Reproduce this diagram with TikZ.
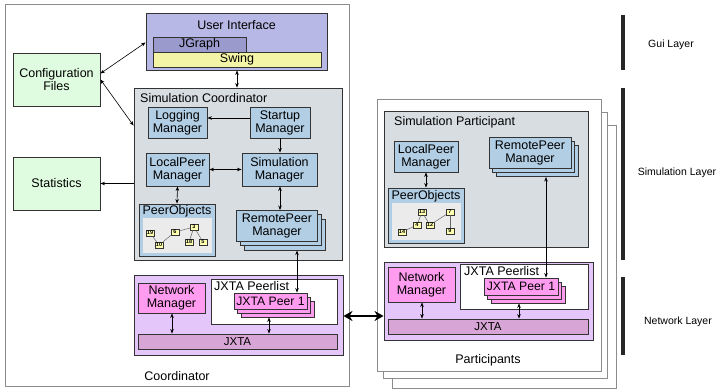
\documentclass[tikz,border=0pt]{standalone}
\usepackage{fontspec}
\setmainfont{Liberation Sans}
\usetikzlibrary{arrows.meta,shadows}
\definecolor{uifill}{HTML}{B8B8E6}
\definecolor{jgfill}{HTML}{9A9ACC}
\definecolor{swfill}{HTML}{F4F4A6}
\definecolor{grfill}{HTML}{E0FCE0}
\definecolor{scfill}{HTML}{D8DDE2}
\definecolor{mgfill}{HTML}{B2CEE4}
\definecolor{pofill}{HTML}{EBEBEB}
\definecolor{nbfill}{HTML}{FFFFB0}
\definecolor{nlfill}{HTML}{E4C6FA}
\definecolor{pkfill}{HTML}{FF9CF0}
\definecolor{jxfill}{HTML}{D8A6D6}
\definecolor{bdr}{HTML}{333333}
\definecolor{outerbdr}{HTML}{8C8C8C}
\tikzset{
  base/.style={draw=bdr, line width=0.9pt, inner sep=0pt, align=center,
    font=\fontsize{12.5}{13}\selectfont},
  outerbox/.style={draw=outerbdr, line width=0.8pt, fill=white, inner sep=0pt},
  uibox/.style={base, fill=uifill},
  greenbox/.style={base, fill=grfill},
  simbox/.style={base, fill=scfill},
  mgr/.style={base, fill=mgfill},
  pobox/.style={draw=none, fill=pofill, inner sep=0pt},
  numbox/.style={draw=bdr, line width=0.5pt, fill=nbfill, inner sep=0pt,
    minimum width=7.5pt, minimum height=6pt, font=\fontsize{5.5}{6}\selectfont\bfseries},
  numline/.style={draw=gray!80!black, line width=0.5pt},
  netbox/.style={base, fill=nlfill},
  pink/.style={base, fill=pkfill},
  jxbar/.style={base, fill=jxfill, font=\fontsize{11.5}{12}\selectfont},
  listbox/.style={base, fill=white},
  title/.style={inner sep=0pt, anchor=west, font=\fontsize{12.5}{13}\selectfont},
  arr/.style={line width=0.6pt, -{Stealth[length=4.5pt,width=3.5pt]}},
  darr/.style={line width=0.6pt, {Stealth[length=4.5pt,width=3.5pt]}-{Stealth[length=4.5pt,width=3.5pt]}},
  bigarr/.style={line width=2.4pt, {Stealth[length=9pt,width=10pt]}-{Stealth[length=9pt,width=10pt]}},
  layerbar/.style={fill=black!85, draw=none, inner sep=0pt, minimum width=4pt},
  layerlabel/.style={inner sep=0pt, font=\fontsize{10.5}{11}\selectfont},
  stack/.style={double copy shadow={shadow xshift=3.8pt, shadow yshift=-4.3pt}},
}
\begin{document}
\begin{tikzpicture}[x=1pt,y=-1pt]
\useasboundingbox (0,0) rectangle (726,390);
% ---------- Coordinator outer box ----------
\node[outerbox, minimum width=344pt, minimum height=382pt] (coord) at (177,195) {};
\node[inner sep=0pt, font=\fontsize{12.5}{13}\selectfont] (coordlbl) at (177,376) {Coordinator};
% ---------- Participants stacked outer boxes ----------
\node[outerbox, minimum width=224pt, minimum height=263pt] (part3) at (504,256.5) {};
\node[outerbox, minimum width=224pt, minimum height=266pt] (part2) at (495,245) {};
\node[outerbox, minimum width=224pt, minimum height=272pt] (part) at (489,235) {};
\node[inner sep=0pt, font=\fontsize{12.5}{13}\selectfont] (partlbl) at (488,360) {Participants};
% ---------- User interface ----------
\node[uibox, minimum width=181pt, minimum height=57pt] (ui) at (236.5,41.5) {};
\node[inner sep=0pt, font=\fontsize{12.5}{13}\selectfont] (uilbl) at (236.5,25.5) {User Interface};
\node[base, fill=jgfill, minimum width=93pt, minimum height=15pt] (jgraph) at (199.5,44.5) {JGraph};
\node[base, fill=swfill, minimum width=168pt, minimum height=15pt] (swing) at (237,59.5) {Swing};
% ---------- Config / Statistics ----------
\node[greenbox, minimum width=87pt, minimum height=53pt] (cfg) at (56.5,79.5) {Configuration\\Files};
\node[greenbox, minimum width=87pt, minimum height=53pt] (stats) at (56.5,183.5) {Statistics};
% ---------- Simulation Coordinator ----------
\node[simbox, minimum width=208pt, minimum height=172pt] (simc) at (238,174) {};
\node[title] (simclbl) at (140,98.5) {Simulation Coordinator};
\node[mgr, minimum width=59pt, minimum height=31pt] (logm) at (177.5,122.5) {Logging\\Manager};
\node[mgr, minimum width=60pt, minimum height=31pt] (startm) at (280,122.5) {Startup\\Manager};
\node[mgr, minimum width=63pt, minimum height=33pt] (localm) at (177.5,169.5) {LocalPeer\\Manager};
\node[mgr, minimum width=75pt, minimum height=33pt] (simm) at (279.5,169.5) {Simulation\\Manager};
\node[mgr, stack, minimum width=81pt, minimum height=31pt] (remm) at (277,226) {RemotePeer\\Manager};
\node[mgr, minimum width=76pt, minimum height=52pt] (pobj) at (177,230) {};
\node[inner sep=0pt, font=\fontsize{12.5}{13}\selectfont] (pobjlbl) at (177,211.5) {PeerObjects};
\node[pobox, minimum width=69pt, minimum height=35pt] (pobjin) at (177.5,235.5) {};
\node[numbox] (n19) at (150,233) {19};
\node[numbox] (n10) at (159,245) {10};
\node[numbox] (n6) at (175,232) {6};
\node[numbox] (n3) at (194,227) {3};
\node[numbox] (n18) at (189,242) {18};
\node[numbox] (n5) at (203,242) {5};
\draw[numline] (n19) -- (n10);
\draw[numline] (n10) -- (n6);
\draw[numline] (n6) -- (n3);
\draw[numline] (n3) -- (n18);
\draw[numline] (n3) -- (n5);
% ---------- Coordinator network layer ----------
\node[netbox, minimum width=209pt, minimum height=80pt] (net) at (238.5,315) {};
\node[pink, minimum width=67pt, minimum height=30pt] (netm) at (171.5,298) {Network\\Manager};
\node[listbox, minimum width=126pt, minimum height=45pt] (plist) at (274,301.5) {};
\node[title] (plistlbl) at (214,286) {JXTA Peerlist};
\node[pink, stack, minimum width=73pt, minimum height=16pt, font=\fontsize{12.2}{13}\selectfont] (peer) at (270.5,301) {JXTA Peer 1};
\node[jxbar, minimum width=199pt, minimum height=15pt] (jxta) at (237.5,341.5) {JXTA};
% ---------- Simulation Participant ----------
\node[simbox, minimum width=204pt, minimum height=136pt] (simp) at (486,179) {};
\node[title] (simplbl) at (394,122.5) {Simulation Participant};
\node[mgr, minimum width=64pt, minimum height=31pt] (plocalm) at (426,156.5) {LocalPeer\\Manager};
\node[mgr, stack, minimum width=82pt, minimum height=31pt] (premm) at (530,152.5) {RemotePeer\\Manager};
\node[mgr, minimum width=76pt, minimum height=55pt] (ppobj) at (426,215.5) {};
\node[inner sep=0pt, font=\fontsize{12.5}{13}\selectfont] (ppobjlbl) at (426,196) {PeerObjects};
\node[pobox, minimum width=69pt, minimum height=37pt] (ppobjin) at (426.5,221.5) {};
\node[numbox] (m13) at (422,212) {13};
\node[numbox] (m7) at (450,212) {7};
\node[numbox] (m4) at (417,225) {4};
\node[numbox] (m12) at (430,225) {12};
\node[numbox] (m14) at (402,232) {14};
\node[numbox] (m9) at (450,231) {9};
\draw[numline] (m14) -- (m4);
\draw[numline] (m4) -- (m13);
\draw[numline] (m13) -- (m12);
\draw[numline] (m12) -- (m7);
\draw[numline] (m7) -- (m9);
% ---------- Participant network layer ----------
\node[netbox, minimum width=209pt, minimum height=78pt] (pnet) at (488.5,301) {};
\node[pink, minimum width=67pt, minimum height=35pt] (pnetm) at (421.5,284.5) {Network\\Manager};
\node[listbox, minimum width=128pt, minimum height=45pt] (pplist) at (524,286.5) {};
\node[title] (pplistlbl) at (464,271) {JXTA Peerlist};
\node[pink, stack, minimum width=74pt, minimum height=17pt, font=\fontsize{12.2}{13}\selectfont] (ppeer) at (521,286.5) {JXTA Peer 1};
\node[jxbar, minimum width=200pt, minimum height=15pt] (pjxta) at (488,326.5) {JXTA};
% ---------- Connectors ----------
\draw[darr] ([yshift=6pt]cfg.east) -- ([yshift=-1pt]ui.west);
\draw[darr] (cfg.east) -- ([yshift=-38pt]simc.north west);
\draw[darr] (ui.south -| 237,0) -- (simc.north -| 237,0);
\draw[arr] (startm.west |- 0,118) -- (logm.east |- 0,118);
\draw[arr] (startm.south -| 280,0) -- (simm.north -| 280,0);
\draw[darr] (localm.east) -- (simm.west);
\draw[arr] (simc.west |- stats.east) -- (stats.east);
\draw[darr] (localm.south) -- (pobj.north);
\draw[darr] (simm.south -| 280,0) -- (remm.north -| 280,0);
\draw[darr] ([yshift=-8.6pt]remm.south -| 297,0) -- (peer.north -| 297,0);
\draw[darr] (netm.south -| 172,0) -- (jxta.north -| 172,0);
\draw[darr] ([yshift=-8pt]peer.south -| 269,0) -- (jxta.north -| 269,0);
\draw[bigarr] (net.east |- 0,316) -- (pnet.west |- 0,316);
\draw[darr] (plocalm.south) -- (ppobj.north);
\draw[darr] ([yshift=-8.6pt]premm.south -| 546,0) -- (ppeer.north -| 546,0);
\draw[darr] (pnetm.south -| 422,0) -- (pjxta.north -| 422,0);
\draw[darr] ([yshift=-8pt]ppeer.south -| 519,0) -- (pjxta.north -| 519,0);
% ---------- Layer bars ----------
\node[layerbar, minimum height=55pt] (guibar) at (623,42.5) {};
\node[layerbar, minimum height=172pt] (simbar) at (623,174) {};
\node[layerbar, minimum height=78pt] (netbar) at (623,316) {};
\node[layerlabel] (guilbl) at (671,45) {Gui Layer};
\node[layerlabel] (simlbl) at (677,173) {Simulation Layer};
\node[layerlabel] (netlbl) at (678,322) {Network Layer};
\end{tikzpicture}
\end{document}
